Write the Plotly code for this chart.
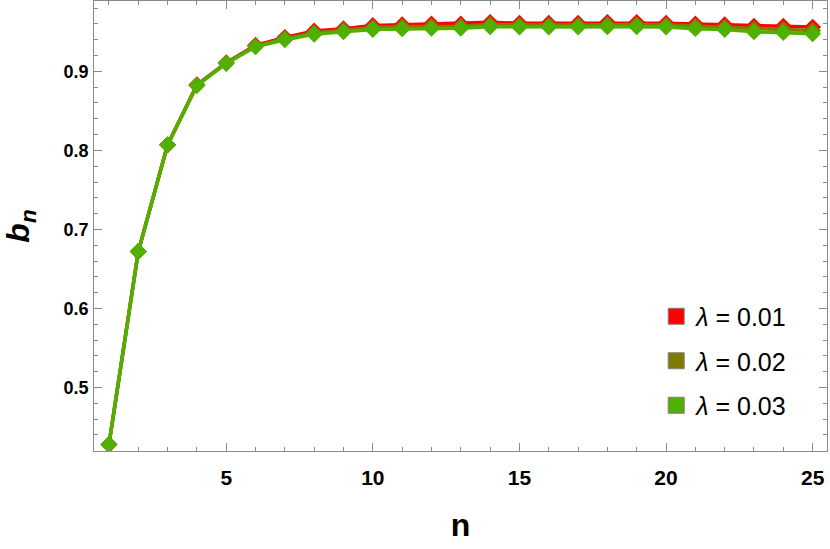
import plotly.graph_objects as go

n_values = list(range(1, 26))

b_lambda_001 = [0.428, 0.672, 0.807, 0.883, 0.911, 0.933, 0.943, 0.951, 0.954, 0.958,
                0.959, 0.960, 0.960, 0.962, 0.961, 0.961, 0.961, 0.962, 0.962, 0.961,
                0.960, 0.959, 0.957, 0.957, 0.956]
b_lambda_002 = [0.428, 0.672, 0.807, 0.8825, 0.9105, 0.932, 0.9415, 0.949, 0.952, 0.9555,
                0.9564, 0.9572, 0.9572, 0.9593, 0.9585, 0.9585, 0.9585, 0.9593, 0.9593, 0.9585,
                0.957, 0.956, 0.9535, 0.953, 0.9518]
b_lambda_003 = [0.428, 0.672, 0.807, 0.882, 0.910, 0.931, 0.940, 0.947, 0.950, 0.953,
                0.9537, 0.9544, 0.9544, 0.9565, 0.956, 0.956, 0.956, 0.9565, 0.9565, 0.956,
                0.954, 0.953, 0.950, 0.949, 0.9475]

series_labels = ["<i>λ</i> = 0.01", "<i>λ</i> = 0.02", "<i>λ</i> = 0.03"]
series_values = [b_lambda_001, b_lambda_002, b_lambda_003]
series_colors = ["#ff0000", "#807a00", "#4fb000"]

x_tick_values = [5, 10, 15, 20, 25]
y_tick_values = [0.5, 0.6, 0.7, 0.8, 0.9]

fig = go.Figure()
for lab, vals, col in zip(series_labels, series_values, series_colors):
    fig.add_trace(go.Scatter(
        x=n_values, y=vals, mode="lines+markers",
        line=dict(color=col, width=3.5),
        marker=dict(symbol="diamond", size=13, color=col),
        showlegend=False, hoverinfo="skip",
    ))
for i, (lab, col) in enumerate(zip(series_labels, series_colors)):
    fig.add_trace(go.Scatter(
        x=[None], y=[None], mode="markers", name=lab, legendgroup=f"g{i}",
        marker=dict(symbol="square", size=17, color=col, line=dict(color="#808080", width=1)),
    ))

axis_common = dict(
    showline=True, linecolor="#8a8a8a", linewidth=1.3, mirror="ticks",
    ticks="inside", tickcolor="#8a8a8a", tickwidth=1, ticklen=8,
    showgrid=False, zeroline=False, automargin=False,
)

fig.update_xaxes(
    range=[0.49, 25.49], tickvals=x_tick_values,
    tickfont=dict(family="Liberation Sans", size=21, color="black", weight="bold"),
    ticklabelstandoff=8,
    minor=dict(ticks="inside", ticklen=4, dtick=1, tick0=0, tickcolor="#8a8a8a", showgrid=False),
    title=dict(text="<b>n</b>", font=dict(family="Liberation Sans", size=32, color="black"), standoff=25),
    **axis_common,
)
fig.update_yaxes(
    range=[0.4197, 0.989], tickvals=y_tick_values,
    tickfont=dict(family="Liberation Sans", size=18, color="black", weight="bold"),
    ticklabelposition="inside", ticklabelstandoff=-38,
    minor=dict(ticks="inside", ticklen=4, dtick=0.02, tick0=0, tickcolor="#8a8a8a", showgrid=False),
    title=dict(text="<b><i>b</i><sub><i>n</i></sub></b>", font=dict(family="Liberation Sans", size=32, color="black"), standoff=33),
    **axis_common,
)

fig.update_layout(
    width=830, height=549,
    margin=dict(l=94, r=3, t=1, b=98),
    plot_bgcolor="white", paper_bgcolor="white",
    legend=dict(x=0.767, y=0.2, xanchor="left", yanchor="middle",
                bgcolor="rgba(0,0,0,0)", font=dict(family="Liberation Sans", size=25, color="black"),
                tracegroupgap=9, itemsizing="trace"),
)

fig.write_html("out.html", config={"displayModeBar": False},
               post_script="document.body.style.margin='0';")
